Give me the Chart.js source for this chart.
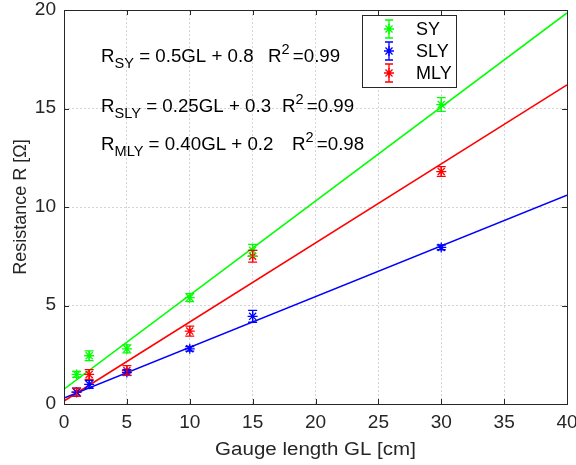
<!DOCTYPE html>
<html>
<head>
<meta charset="utf-8">
<script src="https://cdn.jsdelivr.net/npm/chart.js@4/dist/chart.umd.min.js"></script>
<style>
  html, body { margin: 0; padding: 0; background: #fff; }
  #wrap { width: 576px; height: 465px; }
</style>
</head>
<body>
<div id="wrap"><canvas id="res-chart" width="576" height="465"></canvas></div>
<script>
// measured resistance vs gauge length, three yarn types
const gaugeLength = [1, 2, 5, 10, 15, 30];
const syValues  = [1.5, 2.45, 2.8, 5.4, 7.8, 15.2];
const syErr     = [0.15, 0.25, 0.2, 0.2, 0.3, 0.35];
const slyValues = [0.6, 1.0, 1.6, 2.8, 4.45, 7.95];
const slyErr    = [0.2, 0.2, 0.15, 0.12, 0.3, 0.12];
const mlyValues = [0.6, 1.5, 1.7, 3.7, 7.5, 11.8];
const mlyErr    = [0.2, 0.25, 0.25, 0.25, 0.3, 0.25];

// linear fit lines, values at both ends of the axis
const fitX   = [0, 40];
const syFit  = [0.75, 19.85];
const slyFit = [0.3, 10.6];
const mlyFit = [0.15, 16.2];

const xTicks = [0, 5, 10, 15, 20, 25, 30, 35, 40];
const yTicks = [0, 5, 10, 15, 20];

const seriesNames  = ['SY', 'SLY', 'MLY'];
const seriesColors = ['#00ff00', '#0000ff', '#ff0000'];

const FONT = '"Liberation Sans", Arial, Helvetica, sans-serif';
const TEXT = '#262626';

const pts = (xs, ys) => xs.map((x, i) => ({ x, y: ys[i] }));

const fitSet = (ys, color) => ({
  type: 'scatter', data: pts(fitX, ys), showLine: true,
  borderColor: color, borderWidth: 1.6, pointRadius: 0, order: 2,
});
const dataSet = (name, ys, err, color) => ({
  type: 'scatter', label: name, data: pts(gaugeLength, ys), errors: err,
  borderColor: color, backgroundColor: color, pointStyle: 'star',
  pointRadius: 5, borderWidth: 1.3, showLine: false, order: 1,
});

// horizontally widened text (the figure's fonts run a bit wide)
function wideText(ctx, str, x, y, sx, align) {
  ctx.save();
  const w = ctx.measureText(str).width * sx;
  const left = align === 'center' ? x - w / 2 : align === 'right' ? x - w : x;
  ctx.translate(left, y);
  ctx.scale(sx, 1);
  ctx.textAlign = 'left';
  ctx.fillText(str, 0, 0);
  ctx.restore();
  return w;
}

// vertical error bars with caps
const errorBars = {
  id: 'errorBars',
  afterDatasetsDraw(chart) {
    const { ctx, scales: { x, y } } = chart;
    ctx.save();
    chart.data.datasets.forEach(ds => {
      if (!ds.errors) return;
      ctx.strokeStyle = ds.borderColor;
      ctx.lineWidth = 1.3;
      ds.data.forEach((p, i) => {
        const px = x.getPixelForValue(p.x);
        const top = y.getPixelForValue(p.y + ds.errors[i]);
        const bot = y.getPixelForValue(p.y - ds.errors[i]);
        ctx.beginPath();
        ctx.moveTo(px, top); ctx.lineTo(px, bot);
        ctx.moveTo(px - 4.5, top); ctx.lineTo(px + 4.5, top);
        ctx.moveTo(px - 4.5, bot); ctx.lineTo(px + 4.5, bot);
        ctx.stroke();
      });
    });
    ctx.restore();
  }
};

function drawStar(ctx, cx, cy, r) {
  ctx.beginPath();
  for (let k = 0; k < 4; k++) {
    const a = k * Math.PI / 4;
    ctx.moveTo(cx - r * Math.cos(a), cy - r * Math.sin(a));
    ctx.lineTo(cx + r * Math.cos(a), cy + r * Math.sin(a));
  }
  ctx.stroke();
}

// draws "R_sub = rest  R^2 =r2" with sub/superscripts
function drawEquation(ctx, x, y, sub, rest, r2x, r2) {
  const sx = 1.04;
  ctx.fillStyle = '#000';
  ctx.textBaseline = 'alphabetic';
  ctx.font = '18px ' + FONT;
  let cx = x + wideText(ctx, 'R', x, y, sx);
  ctx.font = '14px ' + FONT;
  cx += wideText(ctx, sub, cx, y + 6, sx);
  ctx.font = '18px ' + FONT;
  wideText(ctx, rest, cx, y, sx);
  const rx = r2x + wideText(ctx, 'R', r2x, y, sx);
  ctx.font = '14px ' + FONT;
  const w2 = wideText(ctx, '2', rx, y - 8, sx);
  ctx.font = '18px ' + FONT;
  wideText(ctx, ' =' + r2, rx + w2 - 2, y, sx);
}

// axes box, inward ticks, tick labels, titles, equations and legend
const frame = {
  id: 'frame',
  afterDraw(chart) {
    const { ctx, chartArea: a, scales: { x, y } } = chart;
    ctx.save();
    ctx.strokeStyle = '#262626';
    ctx.lineWidth = 1;
    ctx.strokeRect(Math.round(a.left) + 0.5, Math.round(a.top) + 0.5,
      Math.round(a.right - a.left), Math.round(a.bottom - a.top));
    ctx.beginPath();
    xTicks.forEach(v => {
      const px = Math.round(x.getPixelForValue(v)) + 0.5;
      ctx.moveTo(px, a.bottom); ctx.lineTo(px, a.bottom - 5);
      ctx.moveTo(px, a.top); ctx.lineTo(px, a.top + 5);
    });
    yTicks.forEach(v => {
      const py = Math.round(y.getPixelForValue(v)) + 0.5;
      ctx.moveTo(a.left, py); ctx.lineTo(a.left + 5, py);
      ctx.moveTo(a.right, py); ctx.lineTo(a.right - 5, py);
    });
    ctx.stroke();

    // tick labels
    ctx.fillStyle = TEXT;
    ctx.font = '18px ' + FONT;
    ctx.textBaseline = 'middle';
    xTicks.forEach(v => wideText(ctx, String(v), x.getPixelForValue(v), a.bottom + 19, 1.06, 'center'));
    yTicks.forEach(v => wideText(ctx, String(v), a.left - 8, y.getPixelForValue(v), 1.06, 'right'));

    // axis titles
    ctx.font = '18px ' + FONT;
    wideText(ctx, 'Gauge length GL [cm]', (a.left + a.right) / 2, 450, 1.14, 'center');
    ctx.save();
    ctx.translate(21, (a.top + a.bottom) / 2);
    ctx.rotate(-Math.PI / 2);
    ctx.textAlign = 'center';
    ctx.fillText('Resistance R [Ω]', 0, 0);
    ctx.restore();

    drawEquation(ctx, 101, 62, 'SY', ' = 0.5GL + 0.8', 268, '0.99');
    drawEquation(ctx, 101, 112, 'SLY', ' = 0.25GL + 0.3', 282, '0.99');
    drawEquation(ctx, 101, 150, 'MLY', ' = 0.40GL + 0.2', 292, '0.98');

    // legend
    ctx.fillStyle = '#fff';
    ctx.fillRect(362, 15, 94, 72);
    ctx.strokeStyle = '#262626';
    ctx.lineWidth = 1;
    ctx.strokeRect(362.5, 15.5, 94, 72);
    const rows = [29, 51, 73];
    seriesNames.forEach((name, i) => {
      const cy = rows[i];
      ctx.strokeStyle = seriesColors[i];
      ctx.lineWidth = 1.3;
      ctx.beginPath();
      ctx.moveTo(389, cy - 9); ctx.lineTo(389, cy + 9);
      ctx.moveTo(385, cy - 9); ctx.lineTo(393, cy - 9);
      ctx.moveTo(385, cy + 9); ctx.lineTo(393, cy + 9);
      ctx.stroke();
      drawStar(ctx, 389, cy, 5);
      ctx.fillStyle = '#000';
      ctx.font = '18px ' + FONT;
      ctx.textBaseline = 'middle';
      ctx.fillText(name, 416, cy + 1);
    });
    ctx.restore();
  }
};

new Chart(document.getElementById('res-chart'), {
  type: 'scatter',
  data: {
    datasets: [
      fitSet(syFit, seriesColors[0]),
      fitSet(slyFit, seriesColors[1]),
      fitSet(mlyFit, seriesColors[2]),
      dataSet('SY', syValues, syErr, seriesColors[0]),
      dataSet('SLY', slyValues, slyErr, seriesColors[1]),
      dataSet('MLY', mlyValues, mlyErr, seriesColors[2]),
    ]
  },
  options: {
    responsive: false, animation: false,
    layout: { padding: { top: 10, right: 9, left: 0, bottom: 0 } },
    plugins: { legend: { display: false }, tooltip: { enabled: false } },
    scales: {
      x: {
        type: 'linear', min: 0, max: 40,
        afterBuildTicks: s => { s.ticks = xTicks.map(v => ({ value: v })); },
        afterFit: s => { s.height = 61; s.paddingLeft = 0; s.paddingRight = 0; },
        grid: { color: '#d4d4d4', lineWidth: 1, drawTicks: false },
        border: { display: false, dash: [2, 2] },
        ticks: { display: false }
      },
      y: {
        type: 'linear', min: 0, max: 20,
        afterBuildTicks: s => { s.ticks = yTicks.map(v => ({ value: v })); },
        afterFit: s => { s.width = 64; s.paddingTop = 0; s.paddingBottom = 0; },
        grid: { color: '#d4d4d4', lineWidth: 1, drawTicks: false },
        border: { display: false, dash: [2, 2] },
        ticks: { display: false }
      }
    }
  },
  plugins: [errorBars, frame]
});
</script>
</body>
</html>
